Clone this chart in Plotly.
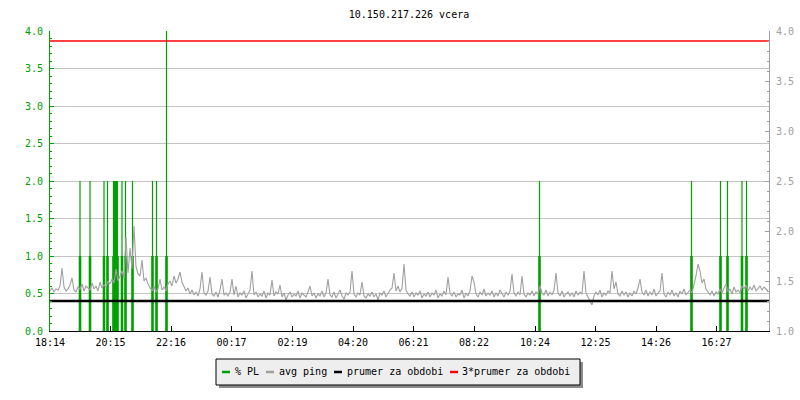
import plotly.graph_objects as go

# ---------------- data ----------------
TITLE = "10.150.217.226 vcera"

TICK_MINUTES = [0, 121, 242, 363, 485, 606, 727, 848, 970, 1091, 1212, 1333]
TICK_LABELS = ["18:14", "20:15", "22:16", "00:17", "02:19", "04:20",
               "06:21", "08:22", "10:24", "12:25", "14:26", "16:27"]
X_RANGE = [0, 1438]          # minutes since 18:14

PING_STEP_MIN = 4
PING_MS = [
    1.40, 1.43, 1.39, 1.42, 1.41, 1.45, 1.63, 1.44, 1.40, 1.42,
    1.46, 1.53, 1.41, 1.39, 1.44, 1.42, 1.47, 1.40, 1.45, 1.43,
    1.41, 1.48, 1.42, 1.45, 1.40, 1.49, 1.43, 1.46, 1.44, 1.50,
    1.47, 1.52, 1.48, 1.62, 1.50, 1.55, 1.60, 1.53, 1.94, 1.58,
    1.83, 1.62, 2.05, 1.64, 1.57, 1.55, 1.71, 1.50, 1.53, 1.47,
    1.43, 1.40, 1.45, 1.39, 1.42, 1.52, 1.41, 1.44, 1.40, 1.47,
    1.50, 1.45, 1.55, 1.48, 1.52, 1.59, 1.49, 1.44, 1.40, 1.43,
    1.37, 1.41, 1.36, 1.39, 1.35, 1.42, 1.59, 1.38, 1.36, 1.40,
    1.54, 1.37, 1.35, 1.39, 1.34, 1.41, 1.52, 1.36, 1.38, 1.35,
    1.39, 1.52, 1.36, 1.45, 1.34, 1.38, 1.36, 1.40, 1.33, 1.37,
    1.41, 1.60, 1.36, 1.39, 1.34, 1.37, 1.35, 1.40, 1.33, 1.38,
    1.36, 1.51, 1.35, 1.39, 1.37, 1.46, 1.34, 1.38, 1.31, 1.36,
    1.39, 1.34, 1.37, 1.35, 1.40, 1.33, 1.38, 1.36, 1.34, 1.39,
    1.45, 1.35, 1.38, 1.33, 1.37, 1.35, 1.40, 1.34, 1.38, 1.52,
    1.36, 1.34, 1.39, 1.33, 1.37, 1.41, 1.35, 1.32, 1.38, 1.36,
    1.39, 1.60, 1.37, 1.34, 1.38, 1.36, 1.49, 1.35, 1.33, 1.37,
    1.35, 1.39, 1.34, 1.37, 1.31, 1.38, 1.36, 1.40, 1.34, 1.38,
    1.41, 1.43, 1.58, 1.40, 1.45, 1.39, 1.43, 1.67, 1.41, 1.37,
    1.35, 1.39, 1.34, 1.38, 1.36, 1.40, 1.33, 1.37, 1.35, 1.39,
    1.34, 1.38, 1.36, 1.41, 1.33, 1.37, 1.35, 1.40, 1.36, 1.54,
    1.38, 1.35, 1.39, 1.34, 1.37, 1.36, 1.41, 1.33, 1.38, 1.35,
    1.40, 1.55, 1.49, 1.37, 1.34, 1.39, 1.36, 1.42, 1.35, 1.38,
    1.36, 1.40, 1.34, 1.38, 1.35, 1.41, 1.37, 1.34, 1.39, 1.36,
    1.40, 1.57, 1.38, 1.35, 1.39, 1.36, 1.55, 1.37, 1.34, 1.38,
    1.36, 1.40, 1.35, 1.39, 1.37, 1.45, 1.38, 1.36, 1.41, 1.35,
    1.39, 1.36, 1.41, 1.58, 1.38, 1.35, 1.40, 1.34, 1.37, 1.39,
    1.35, 1.38, 1.34, 1.40, 1.36, 1.39, 1.37, 1.60, 1.38, 1.34,
    1.31, 1.26, 1.35, 1.39, 1.36, 1.41, 1.34, 1.38, 1.36, 1.40,
    1.38, 1.60, 1.42, 1.49, 1.37, 1.35, 1.40, 1.36, 1.39, 1.34,
    1.38, 1.35, 1.40, 1.37, 1.43, 1.52, 1.39, 1.36, 1.41, 1.35,
    1.39, 1.36, 1.42, 1.35, 1.38, 1.40, 1.58, 1.37, 1.34, 1.39,
    1.36, 1.41, 1.35, 1.38, 1.34, 1.40, 1.37, 1.42, 1.36, 1.39,
    1.41, 1.38, 1.46, 1.55, 1.67, 1.60, 1.48, 1.52, 1.42, 1.39,
    1.36, 1.40, 1.35, 1.39, 1.37, 1.42, 1.38, 1.43, 1.47, 1.39,
    1.42, 1.37, 1.44, 1.39, 1.41, 1.38, 1.45, 1.42, 1.46, 1.40,
    1.44, 1.41, 1.46, 1.40, 1.43, 1.45, 1.41, 1.44, 1.42, 1.40,
]

PL_MINUTES = [60, 80, 108, 115, 127, 129, 131, 133, 135, 144, 151, 165,
              205, 213, 233, 979, 1283, 1341, 1355, 1384, 1393]
PL_PERCENT = [2, 2, 2, 2, 2, 2, 2, 2, 2, 2, 2, 2,
              2, 2, 6, 2, 2, 2, 2, 2, 2]

PRUMER = 1.3

LEGEND_LABELS = ["% PL", "avg ping", "prumer za obdobi", "3*prumer za obdobi"]

# ---------------- style ----------------
GREEN = "#00a000"
GREY = "#a0a0a0"
AXGREY = "#a0a0a0"
GRID = "#c4c4c4"
RED = "#ff0000"
FONT = "DejaVu Sans Mono"
W, H = 800, 400
ML, MR, MT, MB = 50, 31, 31, 69

ping_x = [i * PING_STEP_MIN for i in range(len(PING_MS))]


def segments(xs, ys):
    sx, sy = [], []
    for x, y in zip(xs, ys):
        sx += [x, x, None]
        sy += [0, y, None]
    return sx, sy


pl_thin_x, pl_thin_y = segments(PL_MINUTES, PL_PERCENT)
pl_thick_x, pl_thick_y = segments(PL_MINUTES, [min(v, 1) for v in PL_PERCENT])

fig = go.Figure()
fig.add_trace(go.Scatter(x=pl_thin_x, y=pl_thin_y, mode="lines",
                         line=dict(color=GREEN, width=1.2), yaxis="y",
                         hoverinfo="skip", name=LEGEND_LABELS[0]))
fig.add_trace(go.Scatter(x=pl_thick_x, y=pl_thick_y, mode="lines",
                         line=dict(color=GREEN, width=2.6), yaxis="y",
                         hoverinfo="skip", showlegend=False))
fig.add_trace(go.Scatter(x=ping_x, y=PING_MS, mode="lines",
                         line=dict(color=GREY, width=1.1), yaxis="y2",
                         name=LEGEND_LABELS[1]))
fig.add_trace(go.Scatter(x=X_RANGE, y=[PRUMER, PRUMER], mode="lines",
                         line=dict(color="black", width=2.6), yaxis="y2",
                         name=LEGEND_LABELS[2]))
fig.add_trace(go.Scatter(x=X_RANGE, y=[3 * PRUMER, 3 * PRUMER], mode="lines",
                         line=dict(color=RED, width=1.5), yaxis="y2",
                         name=LEGEND_LABELS[3]))

pw = W - ML - MR
ph = H - MT - MB


def px(x):
    return (x - ML) / pw


def py(y):
    return (H - MB - y) / ph


shapes = []
annotations = []
# legend box with shadow
shapes.append(dict(type="rect", xref="paper", yref="paper",
                   x0=px(219), x1=px(583), y0=py(388), y1=py(362),
                   fillcolor="#8c8c8c", line=dict(width=0), layer="above"))
shapes.append(dict(type="rect", xref="paper", yref="paper",
                   x0=px(216), x1=px(580), y0=py(385), y1=py(359),
                   fillcolor="#eeeeee", line=dict(color="black", width=1),
                   layer="above"))
legend_items = [
    (GREEN, 222, 235),
    (GREY, 266, 279),
    ("black", 334, 347),
    (RED, 450, 462),
]
for (col, sx, tx), label in zip(legend_items, LEGEND_LABELS):
    shapes.append(dict(type="line", xref="paper", yref="paper",
                       x0=px(sx), x1=px(sx + 8), y0=py(372), y1=py(372),
                       line=dict(color=col, width=2.5), layer="above"))
    annotations.append(dict(text=label, xref="paper", yref="paper",
                            x=px(tx - 2), y=py(371), xanchor="left",
                            yanchor="middle", showarrow=False,
                            font=dict(family=FONT, size=10, color="black")))

fig.update_layout(
    width=W, height=H,
    margin=dict(l=ML, r=MR, t=MT, b=MB, pad=0, autoexpand=False),
    paper_bgcolor="white", plot_bgcolor="white",
    showlegend=False,
    font=dict(family=FONT, size=10, color="black"),
    title=dict(text=TITLE, x=409 / W, xanchor="center", y=1 - 14 / H,
               yanchor="middle", font=dict(family=FONT, size=10, color="black")),
    xaxis=dict(range=X_RANGE, tickvals=TICK_MINUTES, ticktext=TICK_LABELS,
               ticks="inside", ticklen=5, tickcolor="black", showline=True,
               linecolor="black", linewidth=1, showgrid=False, zeroline=False,
               tickfont=dict(family=FONT, size=10, color="black"),
               ticklabelstandoff=2, automargin=False),
    yaxis=dict(range=[0, 4], tick0=0, dtick=0.5, tickformat=".1f",
               ticks="inside", ticklen=4, tickcolor=GREEN, showline=True,
               linecolor=GREEN, linewidth=1, showgrid=True, gridcolor=GRID,
               gridwidth=1, zeroline=False, automargin=False,
               tickfont=dict(family=FONT, size=10, color=GREEN),
               ticklabelstandoff=4,
               minor=dict(dtick=0.1, tick0=0, ticks="inside", ticklen=2,
                          tickcolor=GREEN, showgrid=False)),
    yaxis2=dict(range=[1, 4], tick0=1, dtick=0.5, tickformat=".1f",
                overlaying="y", side="right", anchor="x", automargin=False,
                ticks="inside", ticklen=4, tickcolor=AXGREY, showline=True,
                linecolor=AXGREY, linewidth=1, showgrid=False, zeroline=False,
                tickfont=dict(family=FONT, size=10, color=AXGREY),
                ticklabelstandoff=4,
                minor=dict(dtick=0.1, tick0=1, ticks="inside", ticklen=2,
                           tickcolor=AXGREY, showgrid=False)),
    shapes=shapes,
    annotations=annotations,
)

fig.write_html("out.html", config={"displayModeBar": False},
               post_script="document.body.style.margin='0px';")
